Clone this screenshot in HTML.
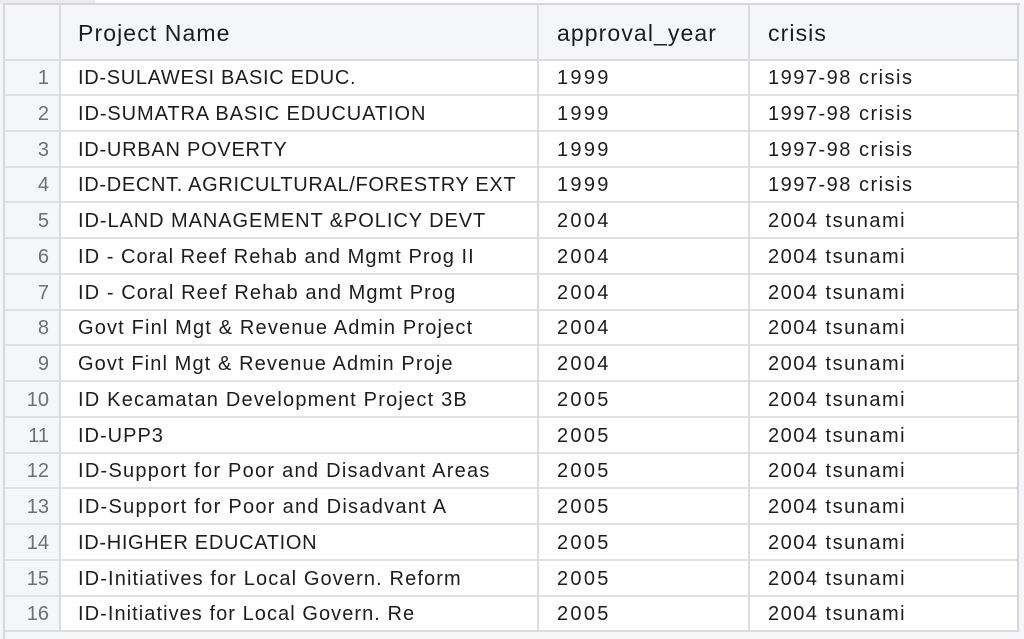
<!DOCTYPE html>
<html>
<head>
<meta charset="utf-8">
<style>
  html,body{margin:0;padding:0;}
  body{width:1024px;height:639px;position:relative;overflow:hidden;background:#f5f6f8;font-family:"Liberation Sans",Arial,sans-serif;color:#1d1d1f;}
  .abs{position:absolute;}
  .hl{position:absolute;left:4px;width:1015px;height:2px;background:#e1e1e4;}
  .vl{position:absolute;width:2px;background:#dcdcdf;}
  .cell{position:absolute;white-space:nowrap;font-size:20px;height:36px;line-height:36px;}
  .num{position:absolute;left:6px;width:43px;text-align:right;color:#6e6e73;font-size:20px;height:36px;line-height:36px;}
  .name{left:78px;letter-spacing:0.5px;}
  .yr{left:557px;letter-spacing:2.3px;}
  .cr{left:768px;letter-spacing:1.5px;}
  .hd{position:absolute;top:5px;height:54px;line-height:56px;font-size:23px;letter-spacing:1.1px;white-space:nowrap;color:#1d1d1f;}
</style>
</head>
<body>
<!-- top strip -->
<div class="abs" style="left:0;top:0;width:1024px;height:4px;background:#fbfbfc;"></div>
<div class="abs" style="left:0;top:0;width:95px;height:4px;background:#ebebed;"></div>
<div class="abs" style="left:4px;top:3px;width:1016px;height:2px;background:#d6d6da;"></div>
<!-- header bg -->
<div class="abs" style="left:5px;top:5px;width:1013px;height:54px;background:#f5f6f8;"></div>
<!-- body bg -->
<div class="abs" style="left:5px;top:60px;width:1013px;height:571px;background:#ffffff;"></div>
<!-- row number column bg -->
<div class="abs" style="left:5px;top:60px;width:55px;height:571px;background:#f5f6f8;"></div>

<!-- horizontal lines -->
<div class="hl" style="top:59px;background:#dcdcdf;"></div>
<div class="hl" style="top:94px;"></div>
<div class="hl" style="top:130px;"></div>
<div class="hl" style="top:166px;"></div>
<div class="hl" style="top:201px;"></div>
<div class="hl" style="top:237px;"></div>
<div class="hl" style="top:273px;"></div>
<div class="hl" style="top:309px;"></div>
<div class="hl" style="top:344px;"></div>
<div class="hl" style="top:380px;"></div>
<div class="hl" style="top:416px;"></div>
<div class="hl" style="top:452px;"></div>
<div class="hl" style="top:487px;"></div>
<div class="hl" style="top:523px;"></div>
<div class="hl" style="top:559px;"></div>
<div class="hl" style="top:595px;"></div>
<div class="hl" style="top:630px;background:#dcdcdf;"></div>

<!-- vertical lines -->
<div class="vl" style="left:3px;top:3px;height:636px;background:#d8d8dc;"></div>
<div class="vl" style="left:59px;top:5px;height:626px;"></div>
<div class="vl" style="left:537px;top:5px;height:626px;"></div>
<div class="vl" style="left:748px;top:5px;height:626px;"></div>
<div class="vl" style="left:1017px;top:3px;height:629px;background:#d6d6da;"></div>

<!-- header -->
<div class="hd" style="left:78px;">Project Name</div>
<div class="hd" style="left:557px;">approval_year</div>
<div class="hd" style="left:768px;">crisis</div>

<!-- rows -->
<div class="num" style="top:60px;">1</div><div class="cell name" style="top:60px;letter-spacing:0.68px;">ID-SULAWESI BASIC EDUC.</div><div class="cell yr" style="top:60px;">1999</div><div class="cell cr" style="top:60px;">1997-98 crisis</div>
<div class="num" style="top:95.75px;">2</div><div class="cell name" style="top:95.75px;letter-spacing:0.91px;">ID-SUMATRA BASIC EDUCUATION</div><div class="cell yr" style="top:95.75px;">1999</div><div class="cell cr" style="top:95.75px;">1997-98 crisis</div>
<div class="num" style="top:131.5px;">3</div><div class="cell name" style="top:131.5px;letter-spacing:0.75px;">ID-URBAN POVERTY</div><div class="cell yr" style="top:131.5px;">1999</div><div class="cell cr" style="top:131.5px;">1997-98 crisis</div>
<div class="num" style="top:167.25px;">4</div><div class="cell name" style="top:167.25px;letter-spacing:0.68px;">ID-DECNT. AGRICULTURAL/FORESTRY EXT</div><div class="cell yr" style="top:167.25px;">1999</div><div class="cell cr" style="top:167.25px;">1997-98 crisis</div>
<div class="num" style="top:203px;">5</div><div class="cell name" style="top:203px;letter-spacing:0.93px;">ID-LAND MANAGEMENT &amp;POLICY DEVT</div><div class="cell yr" style="top:203px;">2004</div><div class="cell cr" style="top:203px;">2004 tsunami</div>
<div class="num" style="top:238.75px;">6</div><div class="cell name" style="top:238.75px;letter-spacing:1.05px;">ID - Coral Reef Rehab and Mgmt Prog II</div><div class="cell yr" style="top:238.75px;">2004</div><div class="cell cr" style="top:238.75px;">2004 tsunami</div>
<div class="num" style="top:274.5px;">7</div><div class="cell name" style="top:274.5px;letter-spacing:1.09px;">ID - Coral Reef Rehab and Mgmt Prog</div><div class="cell yr" style="top:274.5px;">2004</div><div class="cell cr" style="top:274.5px;">2004 tsunami</div>
<div class="num" style="top:310.25px;">8</div><div class="cell name" style="top:310.25px;letter-spacing:1.16px;">Govt Finl Mgt &amp; Revenue Admin Project</div><div class="cell yr" style="top:310.25px;">2004</div><div class="cell cr" style="top:310.25px;">2004 tsunami</div>
<div class="num" style="top:346px;">9</div><div class="cell name" style="top:346px;letter-spacing:1.11px;">Govt Finl Mgt &amp; Revenue Admin Proje</div><div class="cell yr" style="top:346px;">2004</div><div class="cell cr" style="top:346px;">2004 tsunami</div>
<div class="num" style="top:381.75px;">10</div><div class="cell name" style="top:381.75px;letter-spacing:1.2px;">ID Kecamatan Development Project 3B</div><div class="cell yr" style="top:381.75px;">2005</div><div class="cell cr" style="top:381.75px;">2004 tsunami</div>
<div class="num" style="top:417.5px;">11</div><div class="cell name" style="top:417.5px;letter-spacing:1.0px;">ID-UPP3</div><div class="cell yr" style="top:417.5px;">2005</div><div class="cell cr" style="top:417.5px;">2004 tsunami</div>
<div class="num" style="top:453.25px;">12</div><div class="cell name" style="top:453.25px;letter-spacing:1.26px;">ID-Support for Poor and Disadvant Areas</div><div class="cell yr" style="top:453.25px;">2005</div><div class="cell cr" style="top:453.25px;">2004 tsunami</div>
<div class="num" style="top:489px;">13</div><div class="cell name" style="top:489px;letter-spacing:1.28px;">ID-Support for Poor and Disadvant A</div><div class="cell yr" style="top:489px;">2005</div><div class="cell cr" style="top:489px;">2004 tsunami</div>
<div class="num" style="top:524.75px;">14</div><div class="cell name" style="top:524.75px;letter-spacing:0.68px;">ID-HIGHER EDUCATION</div><div class="cell yr" style="top:524.75px;">2005</div><div class="cell cr" style="top:524.75px;">2004 tsunami</div>
<div class="num" style="top:560.5px;">15</div><div class="cell name" style="top:560.5px;letter-spacing:1.12px;">ID-Initiatives for Local Govern. Reform</div><div class="cell yr" style="top:560.5px;">2005</div><div class="cell cr" style="top:560.5px;">2004 tsunami</div>
<div class="num" style="top:596.25px;">16</div><div class="cell name" style="top:596.25px;letter-spacing:1.06px;">ID-Initiatives for Local Govern. Re</div><div class="cell yr" style="top:596.25px;">2005</div><div class="cell cr" style="top:596.25px;">2004 tsunami</div>
</body>
</html>
